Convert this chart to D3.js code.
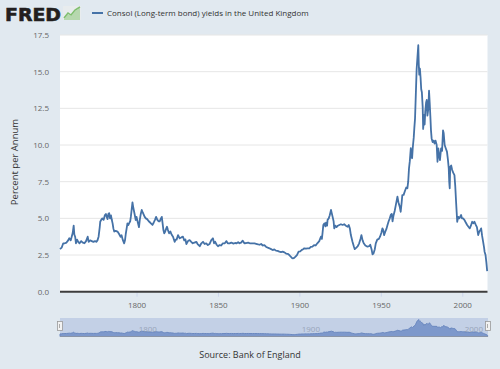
<!DOCTYPE html>
<html><head><meta charset="utf-8">
<script src="https://cdn.jsdelivr.net/npm/d3@7"></script>
<style>html,body{margin:0;padding:0;background:#e1e9f0;}svg{display:block;font-family:"Open Sans",sans-serif;}</style>
</head><body><svg id="c" width="500" height="369"></svg>
<script>
const seriesName = "Consol (Long-term bond) yields in the United Kingdom";
const yTicks = [0, 2.5, 5, 7.5, 10, 12.5, 15, 17.5];
const xTicks = [1800, 1850, 1900, 1950, 2000];
const navTicks = [1800, 1900, 2000];
const years = [
1753.0,1754.0,1755.0,1756.0,1757.0,1758.0,1758.7,1759.6,1760.3,1760.8,1761.4,1761.8,1762.3,1762.8,1763.5,1764.2,1765.0,1766.0,1767.0,1768.0,
1769.0,1770.0,1770.6,1771.5,1772.5,1773.5,1774.5,1775.3,1776.0,1776.7,1777.4,1777.7,1778.3,1779.0,1779.8,1780.5,1781.2,1781.7,1782.2,1782.7,
1783.2,1783.7,1784.3,1784.8,1785.3,1785.8,1786.3,1787.2,1788.3,1789.2,1790.2,1790.8,1791.5,1792.4,1792.9,1793.4,1793.9,1794.4,1795.0,1795.6,
1796.1,1796.5,1797.0,1797.5,1797.9,1798.3,1798.8,1799.5,1800.0,1800.4,1800.9,1801.5,1802.0,1802.6,1803.2,1803.8,1804.4,1805.0,1805.7,1806.5,
1807.5,1808.5,1809.8,1810.5,1811.3,1812.0,1812.8,1813.5,1814.2,1815.0,1815.5,1816.0,1816.5,1817.0,1817.6,1818.2,1818.7,1819.3,1820.0,1820.8,
1821.5,1822.4,1823.4,1824.0,1824.6,1825.5,1826.5,1827.5,1828.5,1829.3,1830.0,1830.6,1831.6,1832.6,1833.6,1834.5,1835.5,1836.7,1837.5,1838.8,
1839.8,1840.8,1841.8,1842.8,1843.8,1844.8,1845.9,1846.9,1847.6,1848.3,1849.2,1850.0,1851.0,1852.0,1853.0,1854.2,1855.2,1856.0,1857.1,1858.2,
1859.5,1860.5,1861.5,1862.4,1863.2,1864.2,1865.2,1866.2,1867.5,1868.5,1869.5,1871.0,1872.4,1874.0,1875.5,1876.5,1877.5,1878.5,1879.6,1880.6,
1881.6,1882.6,1883.6,1884.6,1885.6,1886.6,1887.7,1888.7,1889.7,1890.8,1891.8,1892.8,1893.8,1894.6,1895.4,1896.0,1896.8,1897.6,1898.5,1899.5,
1900.5,1901.5,1902.3,1903.0,1904.0,1905.0,1906.1,1907.0,1908.0,1909.0,1910.0,1911.0,1912.2,1913.2,1913.8,1914.2,1914.7,1915.3,1916.0,1916.3,
1917.0,1917.3,1918.0,1918.6,1919.4,1920.4,1921.0,1921.4,1922.0,1922.8,1923.6,1924.5,1925.5,1926.5,1927.5,1928.5,1929.6,1930.3,1931.0,1931.6,
1932.6,1933.4,1934.0,1935.0,1935.8,1936.7,1937.5,1938.1,1938.8,1939.5,1940.5,1941.8,1942.8,1943.5,1944.3,1944.9,1945.5,1946.3,1946.9,1947.8,
1948.8,1949.5,1950.3,1951.0,1951.5,1952.0,1952.8,1953.5,1954.1,1954.8,1955.5,1956.1,1956.7,1957.2,1957.8,1958.5,1959.2,1960.2,1960.8,1961.6,
1962.2,1962.8,1963.2,1964.0,1964.9,1965.6,1966.3,1966.8,1967.3,1967.8,1968.4,1968.8,1969.2,1969.6,1970.2,1970.6,1971.0,1971.5,1972.0,1972.5,
1973.0,1973.3,1973.6,1974.0,1974.4,1974.8,1975.2,1975.7,1976.0,1976.5,1976.9,1977.3,1977.8,1978.2,1978.6,1979.2,1979.6,1980.0,1980.4,1980.8,
1981.2,1981.8,1982.4,1983.0,1983.6,1984.3,1984.8,1985.3,1985.8,1986.3,1987.0,1987.6,1988.2,1988.6,1989.2,1989.8,1990.6,1991.2,1991.7,1992.0,
1992.3,1992.6,1993.2,1993.8,1994.5,1995.2,1995.7,1996.2,1996.9,1997.5,1998.2,1999.3,1999.8,2000.5,2001.3,2002.0,2003.0,2003.8,2004.6,2005.3,
2006.1,2006.8,2007.5,2008.3,2009.0,2009.8,2010.4,2011.0,2011.6,2012.2,2012.8,2013.4,2013.7,2014.3,2014.8,2015.3
];
const yields = [
2.9,3.0,3.3,3.3,3.35,3.5,3.64,3.5,3.8,4.0,4.5,3.9,3.75,3.3,3.55,3.4,3.3,3.45,3.35,3.3,
3.45,3.75,3.4,3.5,3.45,3.4,3.45,3.4,3.5,3.75,4.4,4.77,4.9,5.0,4.9,5.2,5.3,5.1,4.95,5.3,
5.35,5.0,5.2,4.9,4.66,4.3,4.1,4.15,4.1,3.95,3.75,3.85,3.55,3.3,3.5,3.95,4.3,4.66,4.55,4.7,
4.8,5.1,5.6,6.09,5.8,5.57,5.3,4.89,5.1,4.9,4.66,4.4,4.9,5.3,5.57,5.4,5.25,5.1,5.0,4.95,
4.8,4.7,4.55,4.7,4.9,5.1,4.9,4.8,4.8,5.0,5.1,4.66,4.2,3.98,4.1,4.3,4.43,4.2,3.98,4.1,
3.9,3.75,3.4,3.55,3.55,3.86,3.64,3.7,3.75,3.5,3.57,3.25,3.45,3.52,3.4,3.3,3.35,3.4,3.25,3.1,
3.3,3.4,3.25,3.3,3.18,3.25,3.52,3.64,3.3,3.4,3.2,3.1,3.18,3.15,3.3,3.3,3.45,3.3,3.3,3.35,
3.28,3.32,3.3,3.38,3.3,3.35,3.48,3.3,3.32,3.35,3.3,3.3,3.3,3.25,3.2,3.25,3.15,3.18,3.05,3.0,
2.96,2.9,2.84,2.88,2.8,2.78,2.73,2.7,2.73,2.68,2.6,2.58,2.5,2.4,2.3,2.27,2.3,2.39,2.5,2.73,
2.75,2.85,2.9,2.96,2.93,2.95,2.95,3.05,3.07,3.18,3.15,3.3,3.45,3.75,3.6,4.0,4.55,4.66,4.45,4.7,
4.5,4.9,5.0,5.2,5.57,5.1,4.8,4.32,4.5,4.4,4.5,4.55,4.6,4.55,4.6,4.5,4.43,4.55,4.3,3.86,
3.41,3.1,2.9,3.0,3.1,3.3,3.6,3.86,3.5,3.3,3.15,3.07,3.1,3.2,2.9,2.55,2.6,2.9,3.3,3.55,
3.6,3.75,4.0,4.32,4.2,3.86,4.1,4.3,4.55,4.8,5.0,5.23,5.3,4.8,5.2,5.5,5.9,6.48,6.1,5.8,
5.45,6.1,6.59,6.6,6.9,7.1,7.05,7.5,8.41,8.9,9.78,9.3,9.1,9.8,10.5,11.2,11.8,13.5,15.2,16.0,
16.8,15.5,14.8,15.2,14.6,13.8,13.6,12.6,11.1,12.05,11.4,12.3,12.9,13.07,12.0,12.5,13.7,12.9,12.0,11.0,
10.45,10.2,10.3,10.1,10.3,10.0,8.86,9.77,9.3,8.97,9.77,9.6,11.0,10.8,10.0,9.8,9.55,9.0,8.41,7.5,
7.05,8.52,8.6,8.3,8.1,7.95,7.2,6.13,4.77,5.1,5.0,5.23,5.0,5.0,4.9,4.75,4.55,4.43,4.32,4.5,
4.77,4.66,4.77,4.55,4.4,3.86,4.09,4.2,4.32,3.8,3.41,3.0,2.73,2.5,2.0,1.4
];
const data = years.map((y,i)=>({year:y, value:yields[i]}));

const svg = d3.select("#c");
const L=60, R=487.5, T=35, B=291.7;
const x = d3.scaleLinear().domain([1753, 2015.5]).range([L, R]);
const y = d3.scaleLinear().domain([0, 17.5]).range([B, T]);

// header: FRED logo
svg.append("text").attr("x",5).attr("y",20.5).attr("font-family","DejaVu Sans").attr("font-weight","bold")
  .attr("font-size",18).attr("fill","#231f20").attr("stroke","#231f20").attr("stroke-width",0.6)
  .attr("textLength",56).attr("lengthAdjust","spacingAndGlyphs").text("FRED");
const ic = svg.append("g").attr("transform","translate(63,6)");
ic.append("rect").attr("width",18).attr("height",14).attr("fill","#e8ecee").attr("rx",1);
ic.append("path").attr("d","M1,13 L5,8 L8,10 L12,5 L17,2 L17,14 L1,14 Z").attr("fill","#a9d39d").attr("opacity",0.8);
ic.append("path").attr("d","M1,12 L5,7 L8,9 L12,4 L17,1").attr("fill","none").attr("stroke","#7fbf6e").attr("stroke-width",1.5);

// legend
svg.append("line").attr("x1",92).attr("x2",103).attr("y1",13).attr("y2",13).attr("stroke","#4572a7").attr("stroke-width",2);
svg.append("text").attr("x",107).attr("y",16).attr("font-size",8).attr("fill","#333").text(seriesName);

// plot background
svg.append("rect").attr("x",L).attr("y",T).attr("width",R-L).attr("height",B-T).attr("fill","#fff");

// grid
svg.append("g").selectAll("line").data(yTicks.filter(d=>d>0)).join("line")
  .attr("x1",L).attr("x2",R).attr("y1",d=>y(d)).attr("y2",d=>y(d)).attr("stroke","#e6e6e6").attr("stroke-width",1);

// y axis labels
const yAxis = d3.axisLeft(y).tickValues(yTicks).tickFormat(d3.format(".1f")).tickSize(0).tickPadding(11);
const gy = svg.append("g").attr("transform",`translate(${L},0)`).call(yAxis);
gy.select(".domain").remove();
gy.selectAll("text").attr("font-size",8).attr("fill","#666").attr("font-family","Open Sans");

// x axis
const xAxis = d3.axisBottom(x).tickValues(xTicks).tickFormat(d3.format("d")).tickSize(5).tickPadding(6);
const gx = svg.append("g").attr("transform",`translate(0,${B})`).call(xAxis);
gx.select(".domain").remove();
gx.selectAll(".tick line").attr("stroke","#ccd6eb");
gx.selectAll("text").attr("font-size",8).attr("fill","#666").attr("font-family","Open Sans");
svg.append("line").attr("x1",L).attr("x2",R).attr("y1",B).attr("y2",B).attr("stroke","#3d3d3d").attr("stroke-width",2);

// series line
const line = d3.line().x(d=>x(d.year)).y(d=>y(d.value));
svg.append("path").datum(data).attr("d",line).attr("fill","none").attr("stroke","#4572a7").attr("stroke-width",1.8).attr("stroke-linejoin","round");

// y label
svg.append("text").attr("transform","translate(18,162) rotate(-90)").attr("text-anchor","middle")
  .attr("font-size",9.5).attr("fill","#333").text("Percent per Annum");

// navigator
const NT=318, NB=336.5;
const nx = d3.scaleLinear().domain([1753, 2015.5]).range([L, 488]);
const ny = d3.scaleLinear().domain([d3.min(yields), d3.max(yields)]).range([NB-1, NT+1.5]);
svg.append("rect").attr("x",L).attr("y",NT).attr("width",488-L).attr("height",NB-NT).attr("fill","#c3d0e6");
const area = d3.area().x(d=>nx(d.year)).y0(NB).y1(d=>ny(d.value));
svg.append("path").datum(data).attr("d",area).attr("fill","#7d98cb").attr("stroke","#6a88c0").attr("stroke-width",1);
svg.append("g").selectAll("text").data(navTicks).join("text")
  .attr("x",d=>nx(d)+2).attr("y",332).attr("font-size",8).attr("fill","#8f9bb0").attr("opacity",0.8).text(d=>d);
svg.append("line").attr("x1",L).attr("x2",488).attr("y1",NB).attr("y2",NB).attr("stroke","#8a94a6").attr("stroke-width",1);
[L, 488].forEach(hx=>{
  const h = svg.append("g").attr("transform",`translate(${hx},326)`);
  h.append("rect").attr("x",-2.5).attr("y",-4.5).attr("width",5).attr("height",9).attr("fill","#f2f2f2").attr("stroke","#999").attr("stroke-width",0.8);
  h.append("line").attr("x1",-0.5).attr("x2",-0.5).attr("y1",-2).attr("y2",2).attr("stroke","#999").attr("stroke-width",0.8);
});

// source
svg.append("text").attr("x",250).attr("y",358).attr("text-anchor","middle").attr("font-size",9).attr("fill","#333").text("Source: Bank of England");
</script></body></html>
